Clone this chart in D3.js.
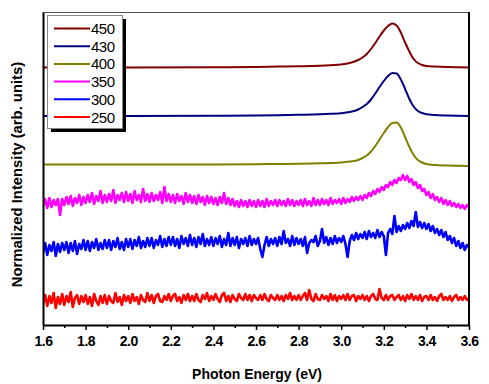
<!DOCTYPE html>
<html>
<head>
<meta charset="utf-8">
<script src="https://cdn.jsdelivr.net/npm/d3@7"></script>
<style>
  html, body { margin: 0; padding: 0; background: #fff; }
  svg { display: block; font-family: "Liberation Sans", Arial, sans-serif; }
</style>
</head>
<body>
<svg id="chart" width="489" height="384"></svg>
<script>
// legend order, top to bottom
const labels = ['450', '430', '400', '350', '300', '250'];
// vertical offset of each spectrum (arb. units)
const offsets = [515, 418, 321, 240, 160, 54];
const xTicks = [1.6, 1.8, 2.0, 2.2, 2.4, 2.6, 2.8, 3.0, 3.2, 3.4, 3.6];
const xMinorTicks = [1.7, 1.9, 2.1, 2.3, 2.5, 2.7, 2.9, 3.1, 3.3, 3.5];

// smooth spectra, sampled on an uneven energy grid (eV)
const energySmooth = [1.6, 2.0, 2.4, 2.6, 2.7, 2.8, 2.9, 2.95, 3.0, 3.04, 3.08, 3.1, 3.12, 3.14, 3.16,
  3.18, 3.2, 3.22, 3.24, 3.26, 3.28, 3.3, 3.32, 3.34, 3.36, 3.38, 3.4, 3.44, 3.5, 3.6];
const int450 = [0, 0, 0.5, 1, 1.8, 2.5, 3.6, 4.6, 6, 9, 15, 20, 27, 37, 49,
  62, 74, 83, 88, 84, 70, 50, 32, 17, 9, 5, 3, 2, 1, 0];
const int430 = [0, 0, 0.5, 1, 1.6, 2.4, 3.4, 4.4, 5.6, 8, 13, 18, 24, 33, 45,
  58, 70, 80, 86, 85, 73, 54, 34, 19, 10, 6, 3.5, 2, 1, 0];
const int400 = [0, 0, 0, 0.5, 1, 1.5, 2.5, 3, 4, 6, 9, 13, 18, 26, 37,
  50, 63, 75, 83, 84, 74, 55, 35, 19, 9, 4, 1, -1, -2, -3];

// noisy spectra, 0.01 eV steps from 1.6 to 3.6 eV
const noisyStart = 1.6, noisyStep = 0.01;
const int350 = [
  -2, 12, -6, 14, -4, 10, 0, 12, -20, 12,
  0, 16, 2, 18, -2, 14, 4, 20, 0, 16,
  4, 20, 6, 24, 2, 18, 8, 28, 4, 20,
  6, 22, 8, 30, 4, 20, 10, 24, 6, 26,
  8, 22, 4, 28, 10, 20, 6, 32, 8, 22,
  6, 24, 8, 20, 10, 26, 4, 36, 8, 22,
  6, 20, 4, 22, 8, 18, 2, 24, 6, 20,
  4, 18, 2, 20, 6, 16, 0, 18, 4, 16,
  2, 14, 0, 16, 4, 24, 2, 14, 0, 12,
  -2, 8, -4, 10, -2, 8, -4, 10, -2, 8,
  -4, 10, -2, 8, -4, 12, -2, 8, 0, 10,
  -2, 10, 0, 8, -2, 12, 0, 10, -2, 8,
  0, 10, -2, 12, 0, 8, -2, 14, 0, 10,
  0, 12, 2, 10, 0, 14, 2, 10, 4, 12,
  2, 14, 4, 12, 6, 16, 8, 16, 10, 18,
  10, 20, 14, 24, 18, 28, 22, 32, 26, 36,
  30, 40, 36, 46, 40, 50, 44, 54, 50, 60,
  50, 58, 46, 52, 40, 46, 34, 40, 28, 32,
  20, 26, 14, 22, 10, 16, 6, 14, 2, 10,
  0, 8, -2, 4, -4, 2, -6, 0, -8, 0,
  -4];
const int300 = [
  -16, 4, -20, 0, -12, 6, -22, 2, -14, 4,
  -10, 6, -16, 4, -12, 8, -18, 2, -8, 10,
  -10, 8, -12, 6, -6, 12, -10, 4, -8, 10,
  -6, 10, -10, 8, -4, 14, -8, 6, -10, 12,
  -4, 12, -8, 10, -2, 16, -6, 8, -4, 14,
  -2, 14, -6, 10, 0, 18, -4, 12, -2, 16,
  0, 16, -2, 12, -6, 18, 2, 14, -2, 20,
  0, 14, -4, 16, 2, 22, -2, 12, 0, 16,
  -2, 14, 2, 18, -4, 12, 0, 24, -2, 14,
  0, 16, -6, 12, 2, 14, -2, 18, 0, 12,
  2, 14, -8, -24, 0, 16, -2, 12, 2, 14,
  -2, 16, 2, 28, 4, 12, -2, 18, 0, 14,
  2, 12, -2, 16, -16, 4, 10, 6, 18, -2,
  8, 32, 4, 16, 0, 14, 2, 18, 4, 14,
  6, 18, 2, -24, 8, 20, 10, 24, 12, 22,
  14, 26, 12, 28, 16, 24, 14, 30, 16, 26,
  18, -20, 24, 32, 22, 58, 26, 38, 28, 40,
  32, 44, 34, 48, 38, 66, 36, 46, 34, 44,
  32, 42, 28, 38, 24, 32, 20, 30, 16, 26,
  10, 18, 4, 14, -2, 8, -6, 4, -10, 0,
  -4];
const int250 = [
  -12, 6, -16, 4, -10, 10, -20, 2, -12, 8,
  -14, 4, -8, 12, -18, 0, 6, -12, 4, -8,
  6, -12, 2, -16, 8, -6, -14, 4, -10, 6,
  -12, 4, -6, -10, 10, -8, 2, -14, 6, -6,
  4, -10, 8, -6, 2, -12, 6, -4, -8, 10,
  -6, 6, -10, 4, 8, -6, -8, 4, -4, 8,
  -6, 4, 8, -6, 2, -10, 6, -4, 8, -6,
  4, -6, 8, -4, -8, 6, -2, 10, -6, 4,
  -4, 8, -2, -8, 6, 10, -6, 4, -8, 6,
  -2, -6, 8, 0, -4, 8, -4, 6, -6, 6,
  0, -4, 6, -4, 8, -2, -6, 6, 0, -4,
  6, -4, 4, -6, 6, -2, 10, -4, 4, -4,
  6, -4, 4, 10, -4, 16, -2, -6, 8, -2,
  -4, 6, -2, 4, -6, 8, -4, 6, -6, 4,
  -2, 6, -4, 8, -4, 4, 6, -6, 4, -2,
  6, -4, 4, -6, 4, 8, -2, -4, 18, 0,
  -4, 6, -4, 4, 6, -4, 2, 6, -4, 4,
  -6, 6, -2, 8, -4, 4, -4, 6, -6, 2,
  4, -4, 6, -4, 2, -6, 4, 8, -4, 2,
  -4, 4, -6, 2, 6, -4, 2, -4, 4, -4,
  0];

const colors = ['#800000', '#000080', '#808000', '#ff00ff', '#0000ff', '#ff0000'];
const widths = [2, 2, 2, 2.6, 2.6, 2.6];

const smoothSets = [int450, int430, int400].map(vals => vals.map((v, i) => [energySmooth[i], v]));
const noisySets = [int350, int300, int250].map(vals => vals.map((v, i) => [noisyStart + i * noisyStep, v]));
const allSets = smoothSets.concat(noisySets);

const svg = d3.select('#chart');
const mLeft = 43, mRight = 469, mTop = 12, mBottom = 325;

const x = d3.scaleLinear().domain([1.6, 3.6]).range([mLeft, mRight]);
const y = d3.scaleLinear().domain([0, 626]).range([mBottom, mTop]);

svg.append('defs').append('clipPath').attr('id', 'clip')
  .append('rect').attr('x', mLeft).attr('y', mTop).attr('width', mRight - mLeft).attr('height', mBottom - mTop);

// spectra
const line = d3.line().x(d => x(d[0])).y(d => y(d[1]));
const plot = svg.append('g').attr('clip-path', 'url(#clip)');
allSets.forEach((pts, k) => {
  const shifted = pts.map(p => [p[0], p[1] + offsets[k]]);
  plot.append('path')
    .attr('d', line.curve(k < 3 ? d3.curveMonotoneX : d3.curveLinear)(shifted))
    .attr('fill', 'none')
    .attr('stroke', colors[k])
    .attr('stroke-width', widths[k])
    .attr('stroke-linejoin', 'round');
});

// frame
svg.append('line').attr('x1', mLeft).attr('x2', mRight).attr('y1', mTop + 0.5).attr('y2', mTop + 0.5)
  .attr('stroke', '#555').attr('stroke-width', 1);
svg.append('line').attr('x1', mRight).attr('x2', mRight).attr('y1', mTop).attr('y2', mBottom)
  .attr('stroke', '#000').attr('stroke-width', 2);

// x axis
const xAxisMinor = d3.axisBottom(x).tickValues(xMinorTicks).tickSize(3).tickFormat('');
svg.append('g').attr('transform', `translate(0,${mBottom})`).call(xAxisMinor)
  .call(g => g.select('.domain').remove())
  .selectAll('line').attr('stroke-width', 1.5);
const xAxis = d3.axisBottom(x).tickValues(xTicks).tickSize(5).tickSizeOuter(0).tickPadding(6)
  .tickFormat(d3.format('.1f'));
const gx = svg.append('g').attr('transform', `translate(0,${mBottom})`).call(xAxis);
gx.select('.domain').attr('stroke-width', 2);
gx.selectAll('.tick line').attr('stroke-width', 1.5);
gx.selectAll('text').attr('font-size', 14).attr('font-weight', 'bold')
  .attr('font-family', '"Liberation Sans", Arial, sans-serif').attr('fill', '#000')
  .attr('letter-spacing', -0.5);

// y axis: line only, no ticks
svg.append('g').attr('transform', `translate(${mLeft},0)`)
  .call(d3.axisLeft(y).tickValues([]).tickSizeOuter(0))
  .select('.domain').attr('stroke-width', 2);

// axis titles
svg.append('text').attr('x', (mLeft + mRight) / 2 + 1).attr('y', 379)
  .attr('text-anchor', 'middle').attr('font-size', 14).attr('font-weight', 'bold')
  .text('Photon Energy (eV)');
svg.append('text').attr('transform', `translate(21.5,${(mTop + mBottom) / 2 + 6}) rotate(-90)`)
  .attr('text-anchor', 'middle').attr('font-size', 14.8).attr('font-weight', 'bold')
  .text('Normalized Intensity (arb. units)');

// legend with drop shadow
const lg = svg.append('g');
lg.append('rect').attr('x', 51).attr('y', 19).attr('width', 75).attr('height', 113).attr('fill', '#000');
lg.append('rect').attr('x', 47.5).attr('y', 15.5).attr('width', 75).attr('height', 113)
  .attr('fill', '#fff').attr('stroke', '#888').attr('stroke-width', 1);
labels.forEach((lab, i) => {
  const ly = 28.5 + i * 17.7;
  lg.append('line').attr('x1', 54).attr('x2', 90).attr('y1', ly).attr('y2', ly)
    .attr('stroke', colors[i]).attr('stroke-width', 2);
  lg.append('text').attr('x', 91).attr('y', ly + 5.5).attr('font-size', 15).attr('fill', '#000')
    .attr('letter-spacing', -0.5).text(lab);
});
</script>
</body>
</html>
